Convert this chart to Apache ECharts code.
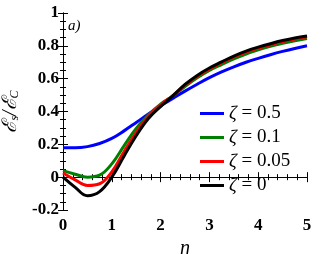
<!DOCTYPE html>
<html><head><meta charset="utf-8">
<script src="https://cdn.jsdelivr.net/npm/echarts@6/dist/echarts.min.js"></script>
<style>html,body{margin:0;padding:0;background:#fff}#c{width:327px;height:254px}</style>
</head><body><div id="c"></div>
<script>
const eta = [0, 0.25, 0.5, 0.75, 1.0, 1.25, 1.5, 1.75, 2.0, 2.25, 2.5, 2.75, 3.0, 3.25, 3.5, 3.75, 4.0, 4.25, 4.5, 4.75, 5.0];
const zeta05 = [0.179, 0.179, 0.186, 0.205, 0.236, 0.282, 0.333, 0.385, 0.435, 0.48, 0.524, 0.566, 0.606, 0.641, 0.672, 0.70, 0.724, 0.746, 0.766, 0.784, 0.80];
const zeta01 = [0.04, 0.018, 0.0, 0.012, 0.081, 0.191, 0.297, 0.38, 0.445, 0.495, 0.552, 0.605, 0.65, 0.686, 0.72, 0.75, 0.775, 0.797, 0.815, 0.831, 0.845];
const zeta005 = [0.025, -0.017, -0.05, -0.04, 0.032, 0.155, 0.272, 0.37, 0.44, 0.497, 0.56, 0.615, 0.66, 0.697, 0.732, 0.762, 0.786, 0.807, 0.826, 0.842, 0.855];
const zeta0 = [0.0, -0.062, -0.113, -0.088, 0.0, 0.128, 0.252, 0.357, 0.43, 0.495, 0.565, 0.62, 0.665, 0.702, 0.738, 0.768, 0.792, 0.813, 0.832, 0.848, 0.86];
const seriesNames = ['0.5', '0.1', '0.05', '0'];
const colors = ['#0000ff', '#008000', '#ff0000', '#000000'];
const xTicks = [0, 1, 2, 3, 4, 5];
const yTicks = [-0.2, 0, 0.2, 0.4, 0.6, 0.8, 1];

const allData = [zeta05, zeta01, zeta005, zeta0];
const serif = '"Liberation Serif", "DejaVu Serif", serif';
const chart = echarts.init(document.getElementById('c'), null, {renderer: 'canvas'});
const tickLabel = {fontFamily: serif, fontWeight: 'bold', fontSize: 17, color: '#000'};
const axisLine = {show: true, lineStyle: {color: '#000', width: 1}};
const baseX = {
  type: 'value', min: 0, max: 5, interval: 1,
  axisLine: axisLine, splitLine: {show: false},
  axisTick: {show: true, inside: true, length: 5, lineStyle: {color: '#000'}},
  minorTick: {show: true, splitNumber: 5, length: 3, lineStyle: {color: '#000'}},
};
const baseY = {
  type: 'value', min: -0.2, max: 1, interval: 0.2,
  axisLine: axisLine, splitLine: {show: false},
  axisTick: {show: true, inside: true, length: 5, lineStyle: {color: '#000'}},
  minorTick: {show: true, splitNumber: 4, length: 3, lineStyle: {color: '#000'}},
};
chart.setOption({
  animation: false,
  grid: {left: 63, right: 20, top: 13, bottom: 44, containLabel: false, outerBoundsMode: 'none'},
  xAxis: [
    Object.assign({}, baseX, {position: 'bottom',
      axisLabel: Object.assign({}, tickLabel, {margin: 7, formatter: v => xTicks.includes(v) ? String(v) : ''}),
      name: 'η', nameLocation: 'middle', nameGap: 26,
      nameTextStyle: {fontFamily: serif, fontStyle: 'italic', fontSize: 20, color: '#000'}}),
    Object.assign({}, baseX, {position: 'top', axisLabel: {show: false}})
  ],
  yAxis: [
    Object.assign({}, baseY, {position: 'left',
      axisLabel: Object.assign({}, tickLabel, {margin: 4, formatter: v => {
        const t = yTicks.find(y => Math.abs(y - v) < 1e-6);
        return t === undefined ? '' : String(t);
      }}),
      name: '{m|ℰ}{s|s}{m|/ℰ}{s|C}', nameLocation: 'middle', nameGap: 32, nameRotate: 90,
      nameTextStyle: {fontFamily: serif, fontStyle: 'italic', fontSize: 20, color: '#000',
        rich: {m: {fontFamily: serif, fontStyle: 'italic', fontSize: 20, color: '#000'},
               s: {fontFamily: serif, fontStyle: 'italic', fontSize: 12, color: '#000', verticalAlign: 'bottom', padding: [8, 0, 0, 0]}}}}),
    Object.assign({}, baseY, {position: 'right', axisLabel: {show: false}})
  ],
  legend: {
    orient: 'vertical', left: 195, top: 99, itemGap: 5,
    itemWidth: 24, itemHeight: 3, icon: 'rect',
    data: seriesNames.map(n => 'ζ = ' + n),
    formatter: name => '{z|ζ} = ' + name.slice(4),
    textStyle: {fontFamily: serif, fontSize: 19, color: '#000', padding: [0, 0, 0, 0],
      rich: {z: {fontFamily: serif, fontStyle: 'italic', fontSize: 19, color: '#000'}}}
  },
  graphic: [{type: 'text', left: 68, top: 19,
    style: {text: 'a)', fontFamily: serif, fontStyle: 'italic', fontSize: 15, fill: '#000'}}],
  series: allData.map((d, i) => ({
    name: 'ζ = ' + seriesNames[i], type: 'line', smooth: 0.4, showSymbol: false,
    xAxisIndex: 0, yAxisIndex: 0,
    color: colors[i], lineStyle: {width: 3, color: colors[i]},
    data: eta.map((x, k) => [x, d[k]])
  }))
});
</script></body></html>
